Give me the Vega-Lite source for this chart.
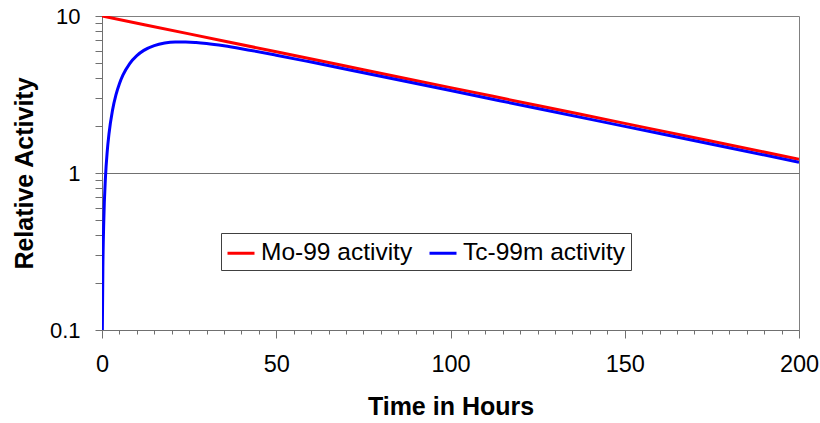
{
  "$schema": "https://vega.github.io/schema/vega-lite/v6.json",
  "width": 697,
  "height": 314,
  "autosize": "none",
  "padding": {"left": 102, "top": 16, "right": 21, "bottom": 93},
  "background": "white",
  "config": {
    "view": {"stroke": "#808080", "strokeWidth": 1},
    "font": "Liberation Sans",
    "axis": {
      "domainColor": "#707070",
      "tickColor": "#707070",
      "labelColor": "black",
      "titleColor": "black",
      "labelFont": "Liberation Sans",
      "titleFont": "Liberation Sans",
      "titleFontWeight": "bold",
      "titleFontSize": 25,
      "labelFontSize": 22,
      "labelOverlap": false,
      "labelFlush": false
    }
  },
  "data": {
    "values": [
      {"series": "Mo-99 activity", "t": 0, "activity": 10},
      {"series": "Mo-99 activity", "t": 25, "activity": 7.691},
      {"series": "Mo-99 activity", "t": 50, "activity": 5.915},
      {"series": "Mo-99 activity", "t": 75, "activity": 4.549},
      {"series": "Mo-99 activity", "t": 100, "activity": 3.499},
      {"series": "Mo-99 activity", "t": 125, "activity": 2.691},
      {"series": "Mo-99 activity", "t": 150, "activity": 2.070},
      {"series": "Mo-99 activity", "t": 175, "activity": 1.592},
      {"series": "Mo-99 activity", "t": 200, "activity": 1.224},
      {"series": "Tc-99m activity", "t": 0.1, "activity": 0.0997},
      {"series": "Tc-99m activity", "t": 0.25, "activity": 0.2469},
      {"series": "Tc-99m activity", "t": 0.5, "activity": 0.4862},
      {"series": "Tc-99m activity", "t": 1, "activity": 0.9425},
      {"series": "Tc-99m activity", "t": 1.5, "activity": 1.371},
      {"series": "Tc-99m activity", "t": 2, "activity": 1.7725},
      {"series": "Tc-99m activity", "t": 3, "activity": 2.502},
      {"series": "Tc-99m activity", "t": 4, "activity": 3.1425},
      {"series": "Tc-99m activity", "t": 5, "activity": 3.7045},
      {"series": "Tc-99m activity", "t": 6, "activity": 4.195},
      {"series": "Tc-99m activity", "t": 8, "activity": 4.996},
      {"series": "Tc-99m activity", "t": 10, "activity": 5.595},
      {"series": "Tc-99m activity", "t": 12, "activity": 6.039},
      {"series": "Tc-99m activity", "t": 15, "activity": 6.478},
      {"series": "Tc-99m activity", "t": 18, "activity": 6.721},
      {"series": "Tc-99m activity", "t": 21, "activity": 6.826},
      {"series": "Tc-99m activity", "t": 24, "activity": 6.837},
      {"series": "Tc-99m activity", "t": 27, "activity": 6.782},
      {"series": "Tc-99m activity", "t": 30, "activity": 6.683},
      {"series": "Tc-99m activity", "t": 35, "activity": 6.458},
      {"series": "Tc-99m activity", "t": 40, "activity": 6.195},
      {"series": "Tc-99m activity", "t": 50, "activity": 5.631},
      {"series": "Tc-99m activity", "t": 60, "activity": 5.087},
      {"series": "Tc-99m activity", "t": 75, "activity": 4.351},
      {"series": "Tc-99m activity", "t": 100, "activity": 3.349},
      {"series": "Tc-99m activity", "t": 125, "activity": 2.575},
      {"series": "Tc-99m activity", "t": 150, "activity": 1.981},
      {"series": "Tc-99m activity", "t": 175, "activity": 1.524},
      {"series": "Tc-99m activity", "t": 200, "activity": 1.172}
    ]
  },
  "mark": {"type": "line", "strokeWidth": 3, "clip": true, "interpolate": "monotone"},
  "encoding": {
    "x": {
      "field": "t",
      "type": "quantitative",
      "scale": {"domain": [0, 200], "nice": false},
      "axis": {
        "title": "Time in Hours",
        "values": [0,5,10,15,20,25,30,35,40,45,50,55,60,65,70,75,80,85,90,95,100,105,110,115,120,125,130,135,140,145,150,155,160,165,170,175,180,185,190,195,200],
        "labelExpr": "datum.value % 50 === 0 ? datum.value + '' : ''",
        "tickSize": {"condition": {"test": "datum.value % 50 === 0", "value": 8}, "value": 4},
        "labelPadding": 14,
        "titlePadding": 19,
        "grid": false,
        "labelFontSize": 23.5
      }
    },
    "y": {
      "field": "activity",
      "type": "quantitative",
      "scale": {"type": "log", "domain": [0.1, 10], "nice": false},
      "axis": {
        "title": "Relative Activity",
        "values": [0.1,0.2,0.3,0.4,0.5,0.6,0.7,0.8,0.9,1,2,3,4,5,6,7,8,9,10],
        "labelExpr": "(datum.value == 0.1 || datum.value == 1 || datum.value == 10) ? datum.value + '' : ''",
        "tickSize": 7,
        "labelPadding": 15,
        "titlePadding": 12,
        "grid": true,
        "gridColor": "#707070",
        "gridOpacity": {"condition": {"test": "datum.value == 1", "value": 1}, "value": 0}
      }
    },
    "color": {
      "field": "series",
      "type": "nominal",
      "scale": {"domain": ["Mo-99 activity", "Tc-99m activity"], "range": ["#ff0000", "#0000ff"]},
      "legend": {
        "title": null,
        "orient": "none",
        "legendX": 119,
        "legendY": 217,
        "direction": "horizontal",
        "columns": 2,
        "strokeColor": "#404040",
        "padding": 5,
        "symbolType": "stroke",
        "symbolSize": 729,
        "symbolStrokeWidth": 3,
        "labelFontSize": 24.5,
        "labelLimit": 400,
        "labelFont": "Liberation Sans",
        "labelColor": "black",
        "labelOffset": 5,
        "columnPadding": 10
      }
    }
  }
}
